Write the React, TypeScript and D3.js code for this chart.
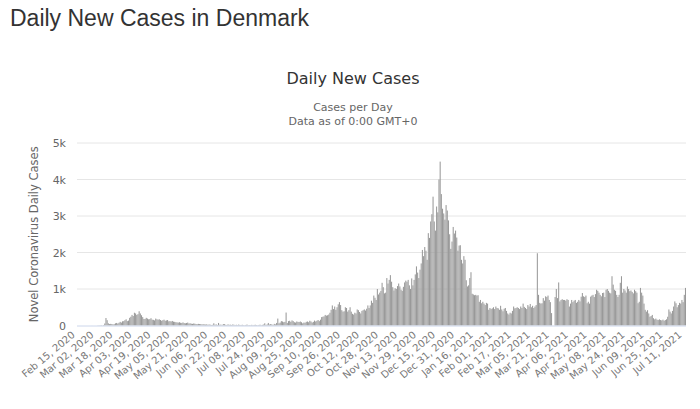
import React from "react";
import * as d3 from "d3";

const feb2020 = [0,0,0,0,0,0,0,0,0,0,0,0,1,0,0];
const mar2020 = [0,0,3,5,5,10,3,12,55,205,145,60,38,45,40,30,35,60,70,52,75,100,80,115,120,145,170,120,135,210,240];
const apr2020 = [290,260,350,330,290,310,390,330,280,230,180,180,210,190,170,175,200,160,155,140,190,170,160,170,150,130,145,160,130,140];
const may2020 = [150,115,120,110,125,105,100,90,85,80,90,75,70,85,65,60,70,80,55,60,50,45,55,50,40,35,45,40,38,30,35];
const jun2020 = [30,25,32,20,28,22,15,18,60,20,30,15,70,20,25,12,40,35,20,15,30,18,22,15,28,20,12,20,10,25];
const jul2020 = [15,12,20,10,8,15,25,10,12,8,18,10,15,20,12,8,15,22,10,18,25,60,15,30,70,25,40,30,15,45,30];
const aug2020 = [70,190,60,80,120,110,90,100,355,70,120,130,100,140,120,90,80,110,100,95,110,90,60,80,75,100,110,90,130,110,80];
const sep2020 = [100,135,110,130,150,120,160,230,240,250,290,270,280,300,350,430,550,450,520,430,500,580,640,560,420,380,390,500,480,380];
const oct2020 = [420,500,380,320,300,350,330,440,420,370,330,400,420,440,410,460,550,480,550,680,620,820,760,700,1000,850,900,950,1170,1050,880];
const nov2020 = [900,1300,1150,1250,1380,1200,1050,960,1020,1000,1080,1150,1070,980,950,1060,1180,1230,1200,1250,1100,1000,1290,1100,1250,1400,1620,1450,1300,1530];
const dec2020 = [1700,2070,1900,2150,2050,1800,2530,2400,2850,3050,3530,2850,2600,3260,3100,4000,4490,3600,3200,3070,2900,3300,3150,2880,2500,2100,2300,2700,2520,2600,2410];
const jan2021 = [2050,2190,2200,1800,1700,1900,1800,1240,1070,1100,1300,1460,870,850,830,840,820,830,650,700,610,650,600,560,620,600,430,480,450,470,500];
const feb2021 = [450,520,480,470,430,540,440,390,460,480,400,330,300,350,330,400,520,470,480,500,480,450,520,480,600,510,480,450];
const mar2021 = [560,520,590,500,540,480,520,560,1980,840,620,600,610,750,680,800,780,820,700,640,340,0,0,780,1000,750,1180,660,700,720,700];
const apr2021 = [700,680,720,700,520,600,700,640,680,700,620,650,700,660,790,890,800,780,820,610,650,600,790,820,840,780,860,980,950,900];
const may2021 = [840,800,890,900,780,980,1000,950,900,880,1350,1120,980,950,840,780,840,1170,1350,900,1000,960,900,1070,1000,940,960,920,880,980,940];
const jun2021 = [900,610,650,1030,900,820,600,430,380,420,330,240,260,290,200,170,190,160,150,170,150,140,160,130,150,170,240,440,380,330];
const jul2021 = [400,520,660,610,500,560,620,600,700,640,840,1030];

const dailyCases = [
  ...feb2020, ...mar2020, ...apr2020, ...may2020, ...jun2020, ...jul2020,
  ...aug2020, ...sep2020, ...oct2020, ...nov2020, ...dec2020, ...jan2021,
  ...feb2021, ...mar2021, ...apr2021, ...may2021, ...jun2021, ...jul2021,
];
const startDate = new Date(2020, 1, 15);
const dates = dailyCases.map((_, i) => d3.timeDay.offset(startDate, i));
const yTicks = [0, 1000, 2000, 3000, 4000, 5000];
const labelEvery = 16;

const W = 700;
const H = 409;
const chartFont = "'DejaVu Sans', Verdana, sans-serif";

export default function App() {
  const left = 77, right = 686, top = 143, bottom = 325.5;
  const x = d3
    .scaleBand<number>()
    .domain(d3.range(dailyCases.length))
    .range([left, right])
    .paddingInner(0.12);
  const y = d3.scaleLinear().domain([0, 5000]).range([bottom, top]);
  const fmt = d3.timeFormat("%b %d, %Y");
  const yFmt = (v: number) => (v === 0 ? "0" : `${v / 1000}k`);
  const labelIdx = d3.range(0, dailyCases.length, labelEvery);

  return (
    <svg
      width={W}
      height={H}
      style={{ position: "absolute", left: 0, top: 0, background: "#fff" }}
    >
      <text x={10} y={26} fontFamily="'Liberation Sans', Arial, sans-serif" fontSize={23} fill="#333">
        Daily New Cases in Denmark
      </text>
      <text x={353} y={84} textAnchor="middle" fontFamily={chartFont} fontSize={16} fill="#333">
        Daily New Cases
      </text>
      <text x={353} y={111} textAnchor="middle" fontFamily={chartFont} fontSize={11} fill="#666">
        Cases per Day
      </text>
      <text x={353} y={125} textAnchor="middle" fontFamily={chartFont} fontSize={11} fill="#666">
        Data as of 0:00 GMT+0
      </text>
      <text
        transform={`translate(38, ${(top + bottom) / 2}) rotate(-90)`}
        textAnchor="middle"
        fontFamily={chartFont}
        fontSize={11.5}
        fill="#666"
      >
        Novel Coronavirus Daily Cases
      </text>
      {yTicks.map((t) => (
        <g key={t}>
          {t > 0 && (
            <line x1={left} x2={right} y1={y(t)} y2={y(t)} stroke="#e6e6e6" strokeWidth={1} />
          )}
          <text x={66} y={y(t) + 4} textAnchor="end" fontFamily={chartFont} fontSize={11} fill="#666">
            {yFmt(t)}
          </text>
        </g>
      ))}
      <g>
        {dailyCases.map((v, i) => (
          <rect
            key={i}
            x={x(i)}
            y={y(v)}
            width={x.bandwidth()}
            height={bottom - y(v)}
            fill="#999"
          />
        ))}
      </g>
      <line x1={left} x2={right} y1={bottom + 0.5} y2={bottom + 0.5} stroke="#ccd6eb" strokeWidth={1} />
      {labelIdx.map((i) => {
        const cx = (x(i) ?? 0) + x.bandwidth() / 2;
        const ly = 336;
        return (
          <text
            key={i}
            x={cx - 2}
            y={ly}
            transform={`rotate(-40, ${cx - 2}, ${ly})`}
            textAnchor="end"
            fontFamily={chartFont}
            fontSize={10}
            fill="#777"
          >
            {fmt(dates[i])}
          </text>
        );
      })}
    </svg>
  );
}
